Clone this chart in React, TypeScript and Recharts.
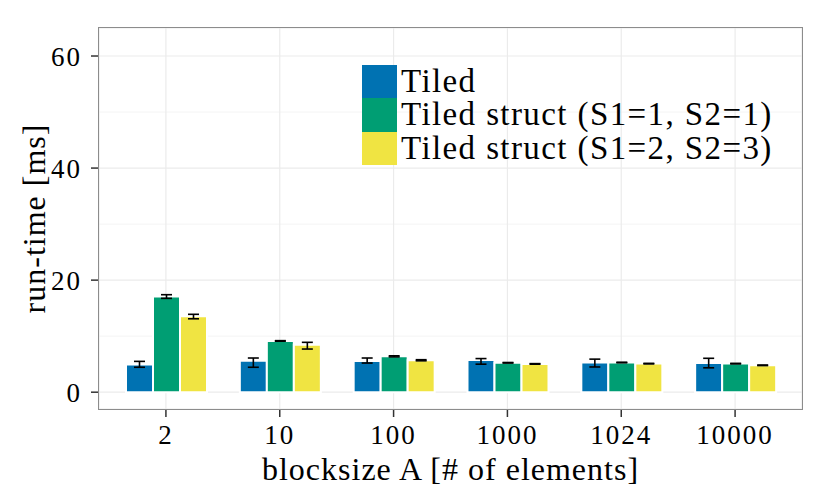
import React from 'react'
import { BarChart, Bar, XAxis, YAxis, CartesianGrid, ErrorBar, Legend } from 'recharts'

const categories = ['2', '10', '100', '1000', '1024', '10000']

const tiled = [4.95, 5.6, 5.55, 5.75, 5.3, 5.2]
const tiledLow = [4.45, 4.45, 5.2, 5.0, 4.5, 4.35]
const tiledHigh = [5.5, 6.1, 6.1, 6.0, 5.9, 6.05]

const struct11 = [17.1, 9.15, 6.4, 5.25, 5.3, 5.1]
const struct11Low = [16.75, 9.1, 6.3, 5.2, 5.25, 5.05]
const struct11High = [17.4, 9.2, 6.5, 5.3, 5.35, 5.15]

const struct23 = [13.55, 8.45, 5.7, 5.05, 5.1, 4.8]
const struct23Low = [13.1, 7.7, 5.6, 5.0, 5.05, 4.75]
const struct23High = [13.9, 8.9, 5.8, 5.1, 5.15, 4.85]

const yTicks = [0, 20, 40, 60]
const yMinor = [10, 30, 50]

const series = [
  { key: 'tiled', name: 'Tiled', color: '#0072B2' },
  { key: 's11', name: 'Tiled struct (S1=1, S2=1)', color: '#009E73' },
  { key: 's23', name: 'Tiled struct (S1=2, S2=3)', color: '#F0E442' },
]

const data = categories.map((c, i) => ({
  cat: c,
  tiled: tiled[i],
  tiledErr: [tiled[i] - tiledLow[i], tiledHigh[i] - tiled[i]],
  s11: struct11[i],
  s11Err: [struct11[i] - struct11Low[i], struct11High[i] - struct11[i]],
  s23: struct23[i],
  s23Err: [struct23[i] - struct23Low[i], struct23High[i] - struct23[i]],
}))

const FONT = '"Liberation Serif", "Times New Roman", serif'

const tickStyle = { fontSize: 27, fill: '#000', fontFamily: FONT, letterSpacing: 2 }
const titleStyle = { fontSize: 32, fill: '#000', fontFamily: FONT, letterSpacing: 1 }

function LegendBox() {
  return (
    <div style={{ fontFamily: FONT, fontSize: 33, letterSpacing: 1.4, color: '#000' }}>
      {series.map(s => (
        <div key={s.key} style={{ display: 'flex', alignItems: 'center', height: 33.4 }}>
          <div style={{ width: 35, height: 33.4, background: s.color }} />
          <span style={{ marginLeft: 4, lineHeight: '33.4px', whiteSpace: 'nowrap' }}>{s.name}</span>
        </div>
      ))}
    </div>
  )
}

export default function App() {
  return (
    <div style={{ position: 'absolute', left: 0, top: 0, width: 830, height: 498, background: '#fff' }}>
      <BarChart
        width={830}
        height={498}
        data={data}
        margin={{ top: 28, right: 28, left: 0, bottom: 0 }}
        barCategoryGap={17}
        barGap={0}
      >
        <CartesianGrid stroke="#f4f4f4" strokeWidth={1} vertical={false} horizontalValues={yMinor} />
        <CartesianGrid stroke="#ebebeb" strokeWidth={1.2} />
        <XAxis
          dataKey="cat"
          height={89}
          padding={{ left: 10, right: 10 }}
          axisLine={false}
          tickSize={8}
          tickMargin={8}
          tickLine={{ stroke: '#333', strokeWidth: 1.5 }}
          tick={tickStyle}
          label={{ value: 'blocksize A [# of elements]', position: 'insideBottom', offset: 18, style: titleStyle }}
        />
        <YAxis
          width={99}
          domain={[-3, 65]}
          ticks={yTicks}
          allowDataOverflow
          axisLine={false}
          tickSize={8}
          tickMargin={9}
          tickLine={{ stroke: '#333', strokeWidth: 1.5 }}
          tick={tickStyle}
          label={{ value: 'run-time [ms]', angle: -90, position: 'insideLeft', offset: 34, style: { ...titleStyle, textAnchor: 'middle' } }}
        />
        <Legend
          layout="vertical"
          align="center"
          verticalAlign="middle"
          content={() => <LegendBox />}
          wrapperStyle={{ position: 'absolute', left: 362, top: 65, width: 'auto' }}
        />
        {series.map(s => (
          <Bar key={s.key} dataKey={s.key} name={s.name} fill={s.color} stroke="#fff" strokeWidth={2} isAnimationActive={false}>
            <ErrorBar dataKey={s.key + 'Err'} width={5.5} stroke="#000" strokeWidth={1.6} direction="y" />
          </Bar>
        ))}
      </BarChart>
      <div
        style={{
          position: 'absolute',
          left: 98,
          top: 27,
          width: 703,
          height: 381,
          border: '1px solid #8c8c8c',
          pointerEvents: 'none',
        }}
      />
    </div>
  )
}
